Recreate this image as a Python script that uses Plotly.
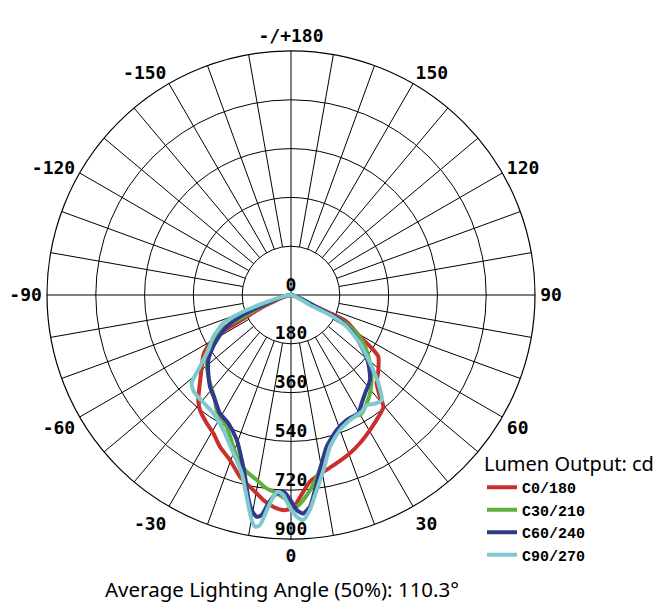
import plotly.graph_objects as go

# ---- data (candela vs. gamma angle, degrees; 0 = straight down) ----
c0_theta = [-90, -67.1, -63.9, -62.5, -61.7, -59.2, -55.6, -51.2, -45.9, -41.4, -38.4, -33.3, -29.3, -25.1,
            -20.3, -15.7, -10.9, -7.7, -4.8, -2.1, 0.6, 1.7, 5.8, 10.4, 15.2, 20.4, 24.9, 30.3, 35.7, 39.6,
            41.2, 44.1, 49.3, 54.8, 56.6, 58.9, 64.4, 65.2, 64.7, 90]
c0_cd = [0, 111, 182, 240, 298, 348, 392, 422, 468, 517, 541, 566, 585, 618,
         649, 696, 733, 763, 784, 794, 786, 764, 692, 663, 643, 623, 603, 577, 553, 535,
         498, 454, 425, 394, 357, 297, 228, 158, 77, 0]

c30_theta = [-90, -68.9, -65.5, -63.8, -59.9, -55.3, -49.6, -42.5, -35.9, -32.9, -26.0, -20.8, -16.9, -14.1,
             -10.5, -7.2, -4.1, -1.2, 0.6, 1.5, 3.4, 5.6, 8.1, 11.1, 14.7, 20.2, 25.6, 30.9, 35.0, 38.8,
             43.5, 49.2, 55.1, 59.8, 62.9, 64.2, 90]
c30_cd = [0, 110, 193, 278, 331, 378, 408, 442, 478, 505, 541, 599, 649, 672,
          694, 719, 733, 756, 775, 781, 758, 723, 677, 620, 566, 524, 504, 508, 487, 465,
          432, 385, 333, 281, 217, 119, 0]

c60_theta = [-90, -70.1, -67.0, -63.8, -58.8, -55.3, -51.8, -46.6, -41.5, -35.9, -31.0, -26.0, -20.5, -16.6,
             -14.2, -12.0, -10.4, -8.8, -7.6, -6.2, -4.6, -2.2, -0.3, 1.5, 3.2, 5.1, 7.0, 9.4, 13.2, 18.7,
             24.0, 29.6, 33.1, 37.0, 42.9, 48.5, 53.8, 58.4, 63.0, 64.2, 90]
c60_cd = [0, 109, 204, 264, 320, 356, 388, 420, 451, 478, 509, 527, 571, 635,
          691, 761, 806, 828, 819, 773, 740, 726, 753, 793, 807, 784, 725, 654, 575, 526,
          505, 502, 477, 454, 428, 381, 323, 270, 203, 119, 0]

c90_theta = [-90, -73.3, -70.3, -67.3, -61.8, -56.4, -51.8, -48.4, -45.0, -33.3, -26.6, -20.1, -15.5, -12.4,
             -9.9, -8.8, -7.7, -6.4, -5.0, -3.7, -2.2, -0.7, 1.5, 3.1, 5.0, 7.5, 10.5, 14.4, 19.9, 25.3,
             31.2, 34.5, 38.4, 40.8, 44.7, 49.2, 55.0, 60.4, 62.9, 62.2, 90]
c90_cd = [0, 107, 200, 271, 325, 366, 427, 490, 506, 522, 557, 620, 681, 762,
          843, 865, 856, 798, 747, 727, 738, 775, 818, 831, 796, 726, 657, 578, 530, 510,
          503, 493, 509, 512, 458, 385, 311, 236, 162, 79, 0]

series_names = ["C0/180", "C30/210", "C60/240", "C90/270"]
series_colors = ["#c9302c", "#5fae3e", "#2f3a8a", "#7fc9cd"]

radial_ticks = [0, 180, 360, 540, 720, 900]
angle_tickvals = [0, 30, 60, 90, 120, 150, 180, 210, 240, 270, 300, 330]
angle_ticktext = ["0", "30", "60", "90", "120", "150", "-/+180", "-150", "-120", "-90", "-60", "-30"]
spoke_angles = list(range(0, 360, 10))
inner_r = 180
outer_r = 900

W, H = 663, 609
OFF = 8  # page body margin in the browser

fig = go.Figure()

# spokes: main axes reach the centre, others start at the inner circle
sr, st = [], []
for a in spoke_angles:
    sr += [0 if a % 90 == 0 else inner_r, outer_r, None]
    st += [a, a, None]
fig.add_trace(go.Scatterpolar(r=sr, theta=st, mode="lines",
                              line=dict(color="black", width=1),
                              showlegend=False, hoverinfo="skip"))

for th, cd, name, col in zip([c0_theta, c30_theta, c60_theta, c90_theta],
                             [c0_cd, c30_cd, c60_cd, c90_cd],
                             series_names, series_colors):
    fig.add_trace(go.Scatterpolar(r=cd, theta=th, mode="lines", name=name,
                                  line=dict(color=col, width=4, shape="spline", smoothing=0.6)))

# radial tick labels along the 0-degree line
fig.add_trace(go.Scatterpolar(r=radial_ticks, theta=[0] * len(radial_ticks), mode="text",
                              text=[str(v) for v in radial_ticks], textposition="top center",
                              textfont=dict(family="DejaVu Sans Mono", size=18, color="black",
                                            weight="bold"),
                              showlegend=False, hoverinfo="skip"))

fig.update_layout(
    width=W, height=H,
    margin=dict(l=0, r=0, t=0, b=0),
    paper_bgcolor="white",
    polar=dict(
        domain=dict(x=[(47 - OFF) / W, (535 - OFF) / W],
                    y=[(H - 539 + OFF) / H, (H - 51 + OFF) / H]),
        bgcolor="white",
        radialaxis=dict(range=[0, outer_r], tickvals=radial_ticks[1:], showticklabels=False,
                        showline=False, ticks="", gridcolor="black", gridwidth=1.2),
        angularaxis=dict(rotation=270, direction="counterclockwise",
                         tickmode="array", tickvals=angle_tickvals, ticktext=angle_ticktext,
                         showgrid=False, showline=True, linecolor="black", linewidth=1.2,
                         ticks="outside", ticklen=1, tickcolor="rgba(0,0,0,0)",
                         tickfont=dict(family="DejaVu Sans Mono", size=18, color="black",
                                       weight="bold")),
    ),
    legend=dict(x=(482 - OFF) / W, y=(H - 445 + OFF) / H, xanchor="left", yanchor="top",
                bgcolor="rgba(0,0,0,0)",
                title=dict(text="Lumen Output: cd",
                           font=dict(family="Noto Sans", size=20, color="black", weight="normal")),
                font=dict(family="Liberation Mono", size=15, color="black", weight="bold"),
                tracegroupgap=0),
    annotations=[dict(text="Average Lighting Angle (50%): 110.3°",
                      x=(282 - OFF) / W, y=(H - 589 + OFF) / H, yanchor="middle",
                      xref="paper", yref="paper", showarrow=False,
                      font=dict(family="Noto Sans", size=20.5, color="black"))],
)

fig.write_html("out.html")
